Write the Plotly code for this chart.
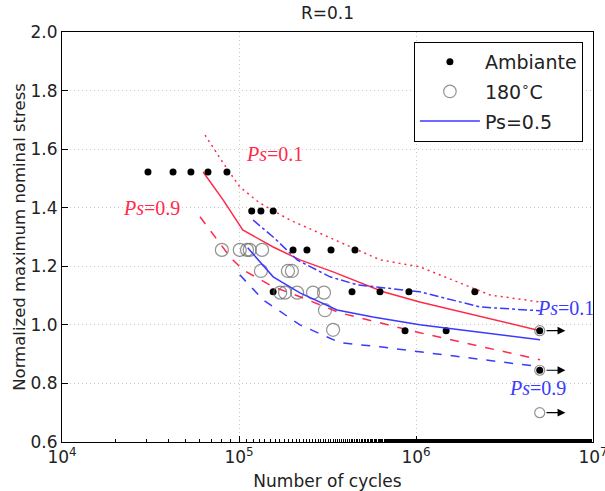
import math
import plotly.graph_objects as go

# Ambiante (room temperature) test results
amb_cycles = [30600, 42400, 53500, 66800, 85500,
              118000, 133000, 156000,
              202000, 242000, 331000, 452000,
              156000, 435000, 626000, 912000, 2150000,
              867000, 1480000, 5000000,
              5000000]
amb_stress = [1.522, 1.522, 1.522, 1.522, 1.522,
              1.389, 1.389, 1.389,
              1.256, 1.256, 1.256, 1.256,
              1.113, 1.113, 1.113, 1.113, 1.113,
              0.980, 0.980, 0.980,
              0.845]

# 180 C test results
hot_cycles = [80000, 101000, 111000, 115000, 135000,
              133000, 189000, 199000,
              171000, 182000, 213000, 262000, 302000,
              306000, 340000,
              5000000, 5000000, 5000000]
hot_stress = [1.256, 1.256, 1.256, 1.256, 1.256,
              1.184, 1.184, 1.184,
              1.110, 1.110, 1.110, 1.110, 1.110,
              1.050, 0.983,
              0.980, 0.845, 0.700]

# run-outs (arrows)
runout_cycles = [5000000, 5000000, 5000000]
runout_stress = [0.980, 0.845, 0.700]

# Ambiante curves
red_p50_x = [62700, 81300, 105000, 156000, 221000, 340000, 652000, 1050000, 5020000]
red_p50_y = [1.522, 1.427, 1.324, 1.266, 1.222, 1.181, 1.113, 1.078, 0.980]
red_p10_x = [64300, 81300, 101000, 131000, 194000, 407000, 626000, 1050000, 1710000, 2620000, 5020000]
red_p10_y = [1.648, 1.553, 1.471, 1.416, 1.358, 1.273, 1.222, 1.198, 1.147, 1.102, 1.078]
red_p90_x = [60200, 89000, 105000, 156000, 221000, 372000, 1050000, 5020000]
red_p90_y = [1.369, 1.232, 1.188, 1.130, 1.096, 1.041, 0.973, 0.881]

# 180 C curves
blue_p50_x = [112000, 156000, 221000, 358000, 571000, 1050000, 5020000]
blue_p50_y = [1.263, 1.164, 1.109, 1.051, 1.027, 1.000, 0.949]
blue_p10_x = [120000, 156000, 213000, 327000, 464000, 1050000, 2300000, 5020000]
blue_p10_y = [1.358, 1.300, 1.222, 1.164, 1.137, 1.113, 1.061, 1.048]
blue_p90_x = [101000, 137000, 221000, 372000, 626000, 1050000, 5020000]
blue_p90_y = [1.171, 1.085, 1.000, 0.939, 0.925, 0.908, 0.857]

RED = "#ff2a4a"
BLUE = "#3a3aff"

fig = go.Figure()

line_specs = [
    (red_p10_x, red_p10_y, RED, "2px,4px"),
    (red_p90_x, red_p90_y, RED, "dash"),
    (red_p50_x, red_p50_y, RED, "solid"),
    (blue_p10_x, blue_p10_y, BLUE, "dashdot"),
    (blue_p90_x, blue_p90_y, BLUE, "dash"),
]
for xs, ys, col, dash in line_specs:
    fig.add_trace(go.Scatter(x=xs, y=ys, mode="lines", showlegend=False,
                             line=dict(color=col, width=1.5, dash=dash)))

fig.add_trace(go.Scatter(x=amb_cycles, y=amb_stress, mode="markers", name="Ambiante",
                         legendgroup="a", marker=dict(color="black", size=7)))
# run-out circles are drawn a bit smaller
hot_sizes = [10 if c >= 5e6 else 13 for c in hot_cycles]
fig.add_trace(go.Scatter(x=hot_cycles, y=hot_stress, mode="markers", name="180<sup>∘</sup>C",
                         legendgroup="b",
                         marker=dict(color="rgba(255,255,255,0)", size=hot_sizes, symbol="circle",
                                     line=dict(color="#666666", width=1.2))))
fig.add_trace(go.Scatter(x=blue_p50_x, y=blue_p50_y, mode="lines", name="Ps=0.5",
                         legendgroup="c", line=dict(color=BLUE, width=1.5)))

# run-out arrows
for c, s in zip(runout_cycles, runout_stress):
    fig.add_annotation(x=math.log10(c) + 0.145, y=s,
                       ax=math.log10(c) + 0.03, ay=s,
                       xref="x", yref="y", axref="x", ayref="y",
                       showarrow=True, arrowhead=2, arrowsize=1.3, arrowwidth=1.2,
                       arrowcolor="black", text="")

labels = [
    (5.203, 1.584, RED, "<i>Ps</i>=0.1"),
    (4.508, 1.400, RED, "<i>Ps</i>=0.9"),
    (6.845, 1.058, BLUE, "<i>Ps</i>=0.1"),
    (6.684, 0.785, BLUE, "<i>Ps</i>=0.9"),
]
for lx, ly, col, txt in labels:
    fig.add_annotation(x=lx, y=ly, xref="x", yref="y", text=txt, showarrow=False,
                       font=dict(family="Liberation Serif", size=20, color=col))

axis_common = dict(showline=True, linecolor="black", linewidth=1, mirror=True,
                   ticks="inside", ticklen=6, tickcolor="black", automargin=False,
                   showgrid=True, gridcolor="#c8c8c8", griddash="1px,3px", gridwidth=1,
                   zeroline=False, tickfont=dict(size=17, color="#222"))

fig.update_xaxes(type="log", range=[4, 7],
                 tickvals=[1e4, 1e5, 1e6, 1e7],
                 ticktext=["10<sup>4</sup>", "10<sup>5</sup>", "10<sup>6</sup>", "10<sup>7</sup>"],
                 ticklabeloverflow="allow",
                 title=dict(text="Number of cycles", font=dict(size=17, color="#222"), standoff=10),
                 minor=dict(ticks="inside", ticklen=3, tickcolor="black", showgrid=False),
                 **axis_common)
fig.update_yaxes(range=[0.6, 2.0], dtick=0.2, tickformat=".1f",
                 title=dict(text="Normalized maximum nominal stress", font=dict(size=16.5, color="#222"),
                            standoff=0),
                 **axis_common)

fig.update_layout(
    width=605, height=491,
    margin=dict(l=62, r=12, t=32, b=49),
    paper_bgcolor="white", plot_bgcolor="white",
    font=dict(family="DejaVu Sans", color="#222"),
    title=dict(text="R=0.1", xref="paper", x=0.5, xanchor="center", y=0.985, yanchor="top",
               font=dict(size=17, color="#222")),
    legend=dict(x=0.981, y=0.976, xanchor="right", yanchor="top",
                bordercolor="black", borderwidth=1, bgcolor="white",
                font=dict(size=19, color="#222"), itemwidth=60, tracegroupgap=2),
)

fig.write_html("out.html", config={"displayModeBar": False},
               post_script="document.body.style.margin='0';")
